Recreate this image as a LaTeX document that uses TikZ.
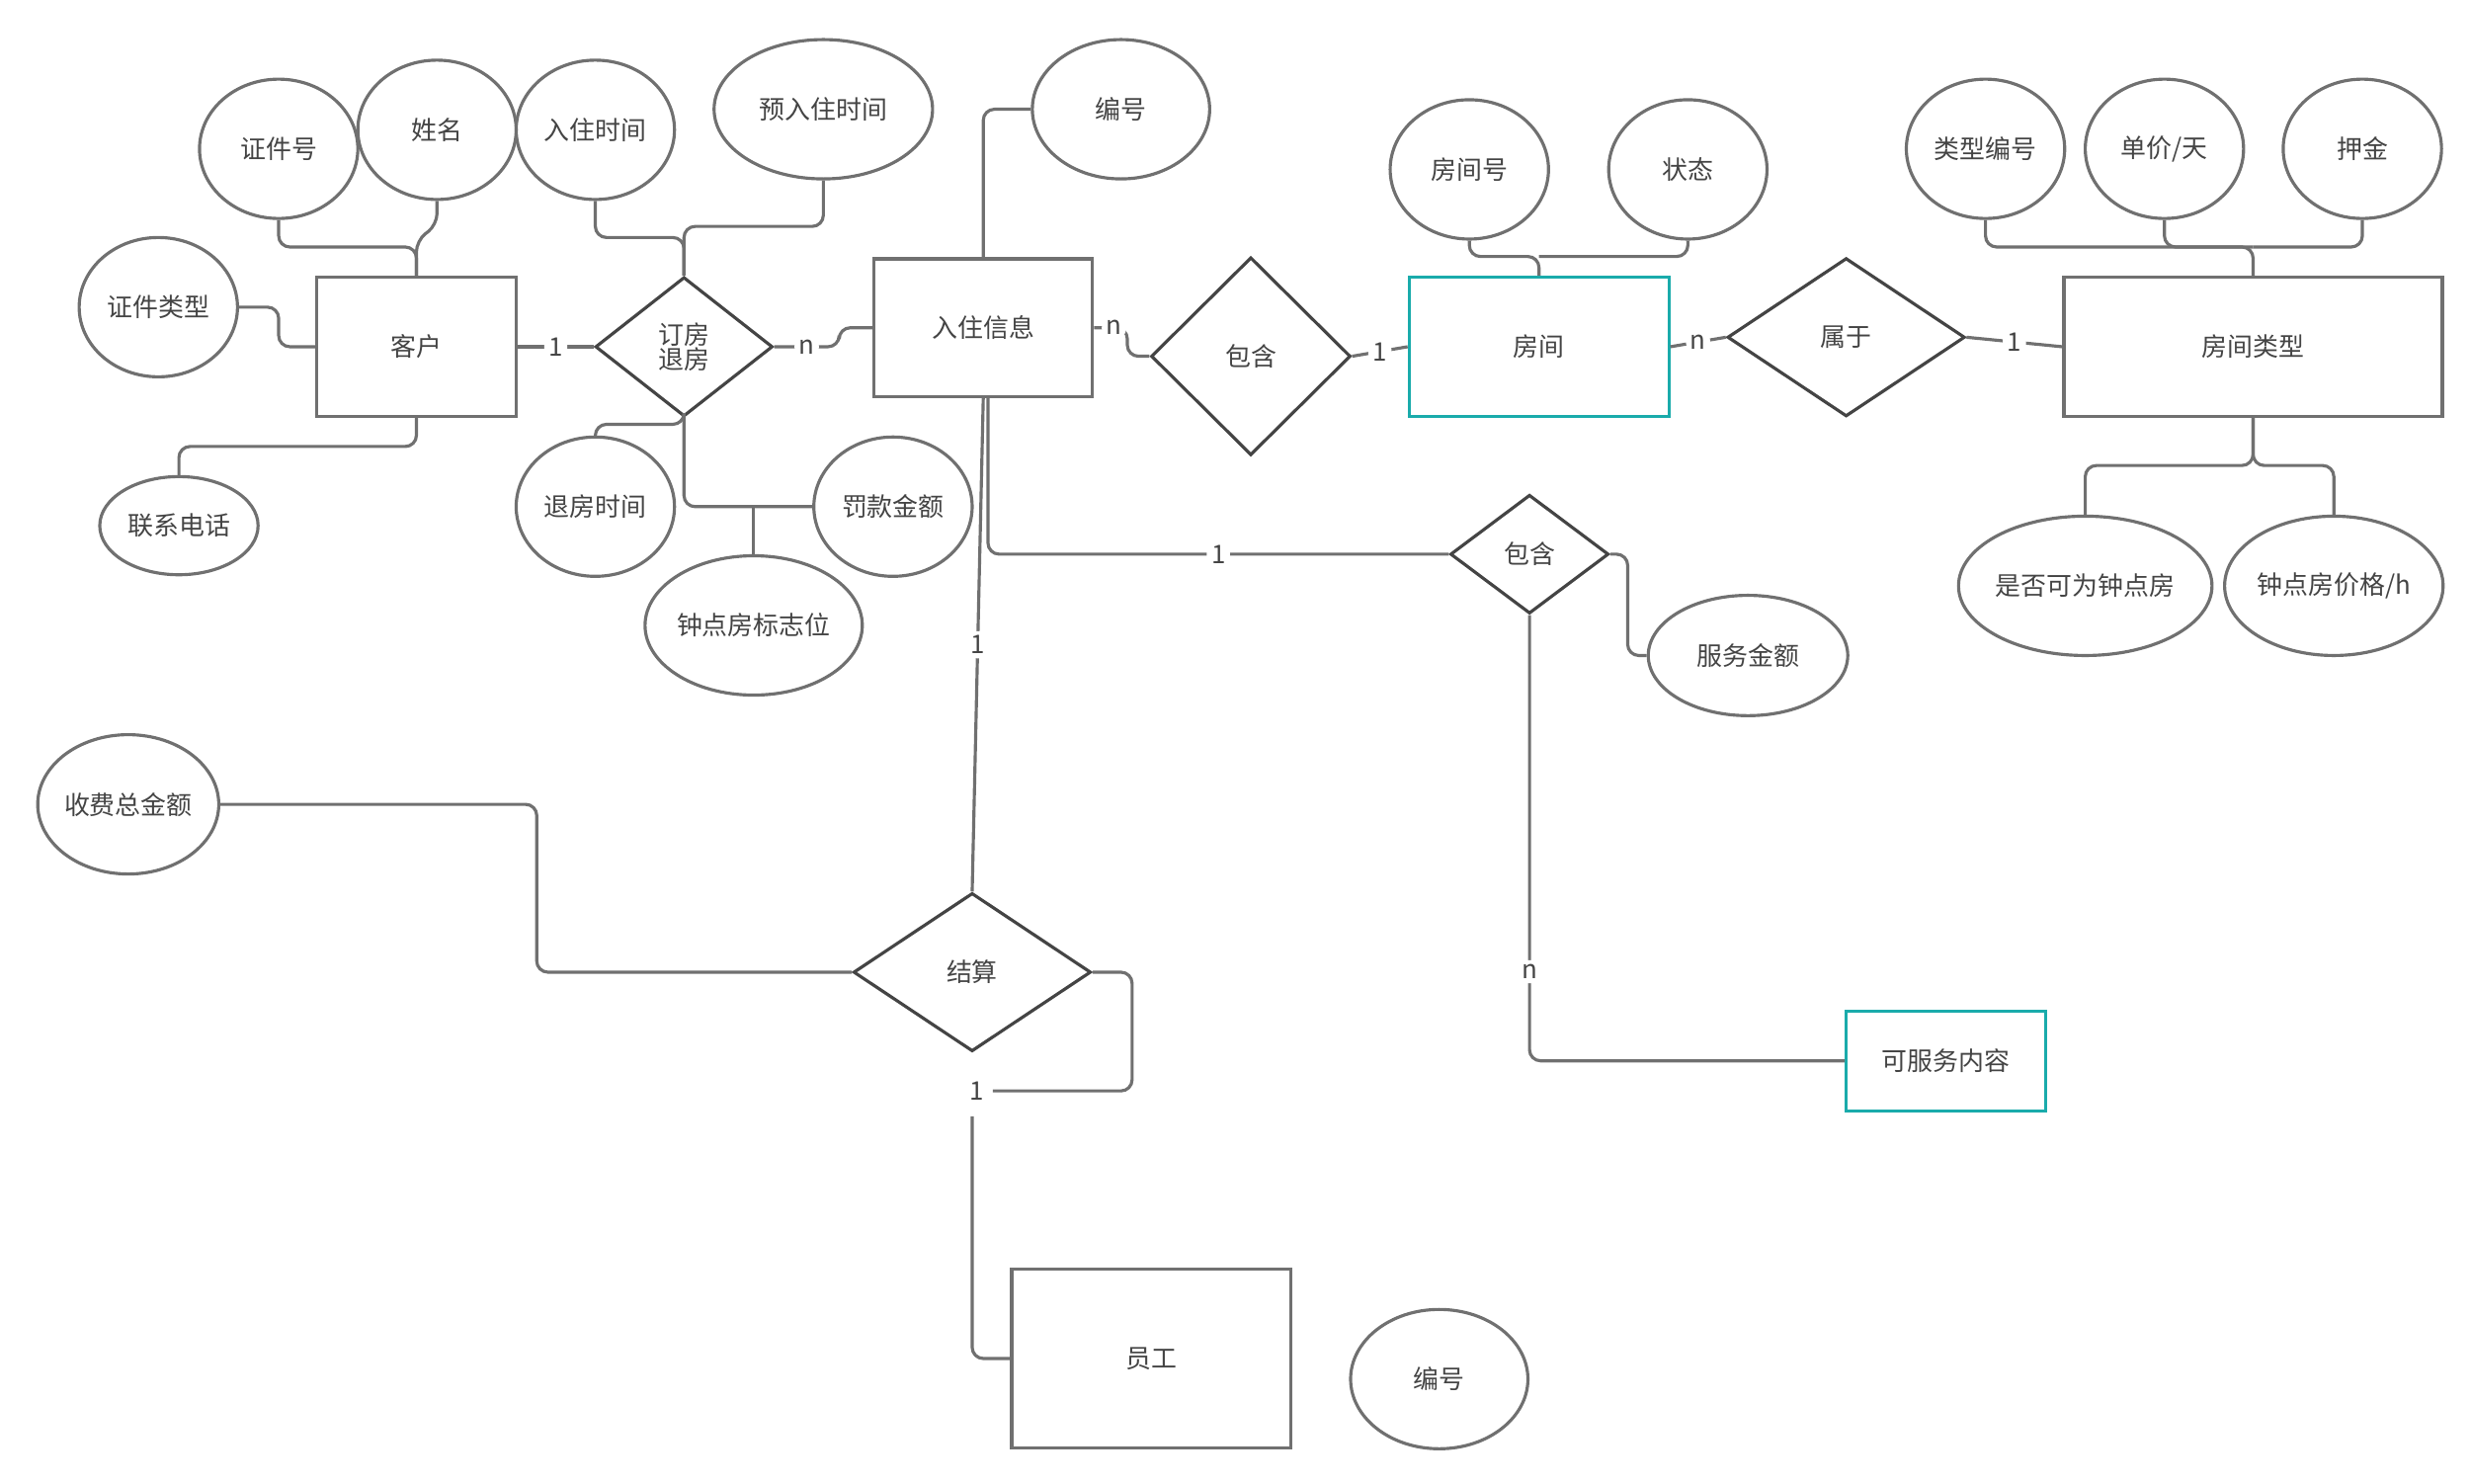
\documentclass[tikz,border=0pt]{standalone}
\usepackage{fontspec}
\setmainfont{Noto Sans CJK SC}
\usetikzlibrary{shapes.geometric}
\definecolor{ln}{HTML}{707070}
\definecolor{dk}{HTML}{444444}
\definecolor{tl}{HTML}{1AABAB}
\def\u{0.025cm}
\begin{document}
\begin{tikzpicture}[x=0.025cm,y=-0.025cm,
  every node/.style={font=\fontsize{11.5}{13}\selectfont,text=dk},
  ell/.style 2 args={ellipse,draw=ln,line width=1.4pt,inner sep=0pt,minimum width={#1*0.025cm},minimum height={#2*0.025cm}},
  ent/.style 2 args={rectangle,draw=ln,line width=1.4pt,inner sep=0pt,minimum width={#1*0.025cm},minimum height={#2*0.025cm}},
  dia/.style 2 args={diamond,draw=dk,line width=1.4pt,inner sep=0pt,minimum width={#1*0.025cm},minimum height={#2*0.025cm}},
  con/.style={draw=ln,line width=1.4pt,rounded corners=5pt},
  lab/.style={fill=white,inner sep=2pt}]
\useasboundingbox (0,0) rectangle (1560,937);
% entities
\node[ent={126}{88}] (kh) at (263,219) {客户};
\node[ent={138}{87}] (rz) at (621,207) {入住信息};
\node[ent={164}{88},draw=tl] (fj) at (972,219) {房间};
\node[ent={239}{88}] (lx) at (1423,219) {房间类型};
\node[ent={176}{113}] (yg) at (727,858) {员工};
\node[ent={126}{63},draw=tl] (fw) at (1229,670) {可服务内容};
% diamonds
\node[dia={112}{88},align=center] (dfang) at (432,219) {订房\\[-2pt]退房};
\node[dia={126}{125}] (bh1) at (790,225) {包含};
\node[dia={150}{100}] (sy) at (1166,213) {属于};
\node[dia={100}{75}] (bh2) at (966,350) {包含};
\node[dia={150}{100}] (js) at (614,614) {结算};
% ellipses
\node[ell={100}{88}] (zjh) at (176,94) {证件号};
\node[ell={100}{88}] (xm) at (276,82) {姓名};
\node[ell={100}{88}] (rzsj) at (376,82) {入住时间};
\node[ell={138}{88}] (yrz) at (520,69) {预入住时间};
\node[ell={112}{88}] (bh) at (708,69) {编号};
\node[ell={100}{88}] (zjlx) at (100,194) {证件类型};
\node[ell={100}{62}] (lxdh) at (113,332) {联系电话};
\node[ell={100}{88}] (tfsj) at (376,320) {退房时间};
\node[ell={100}{88}] (fkje) at (564,320) {罚款金额};
\node[ell={126}{88}] (zdf) at (476,395) {钟点房标志位};
\node[ell={100}{88}] (fjh) at (928,107) {房间号};
\node[ell={100}{88}] (zt) at (1066,107) {状态};
\node[ell={100}{88}] (lxbh) at (1254,94) {类型编号};
\node[ell={100}{88}] (dj) at (1367,94) {单价/天};
\node[ell={100}{88}] (yj) at (1492,94) {押金};
\node[ell={150}{88}] (sf) at (1317,370) {是否可为钟点房};
\node[ell={138}{88}] (zjg) at (1474,370) {钟点房价格/h};
\node[ell={126}{76}] (fwje) at (1104,414) {服务金额};
\node[ell={114}{88}] (sfzje) at (81,508) {收费总金额};
\node[ell={112}{88}] (bh3) at (909,871) {编号};
% connectors around 客户
\draw[con] (zjh.south) |- (263,156) -- (kh.north);
\draw[con] (xm.south) -- (276,142) -- (263,152) -- (kh.north);
\draw[con] (zjlx.east) -- (176,194) |- (kh.west);
\draw[con] (lxdh.north) |- (263,282) -- (kh.south);
\draw[con] (kh.east) -- node[lab]{1} (dfang.west);
\draw[con] (dfang.east) -- node[lab,pos=0.5]{n} (530,219) |- (rz.west);
\draw[con] (rzsj.south) |- (432,150) -- (dfang.north);
\draw[con] (yrz.south) |- (432,143) -- (dfang.north);
\draw[con] (tfsj.north) |- (432,268) -- (dfang.south);
\draw[con] (dfang.south) |- (fkje.west);
\draw[con] (zdf.north) -- (476,320);
\draw[con] (bh.west) -| (rz.north);
\draw[con] (rz.east) -- (712,207) node[lab,pos=0.6]{n} |- (bh1.west);
\draw[con] (bh1.east) -- node[lab]{1} (fj.west);
\draw[con] (fjh.south) |- (972,162) -- (fj.north);
\draw[con] (zt.south) |- (972,162);
\draw[con] (fj.east) -- node[lab]{n} (sy.west);
\draw[con] (sy.east) -- node[lab]{1} (lx.west);
\draw[con] (lxbh.south) |- (1423,156) -- (lx.north);
\draw[con] (dj.south) |- (1423,156);
\draw[con] (yj.south) |- (1423,156);
\draw[con] (lx.south) |- (1317,294) -- (sf.north);
\draw[con] (lx.south) |- (1474,294) -- (zjg.north);
\draw[con] (624,250) |- node[lab,pos=0.75]{1} (bh2.west);
\draw[con] (rz.south) -- node[lab,pos=0.5]{1} (js.north);
\draw[con] (bh2.east) -- (1028,350) |- (fwje.west);
\draw[con] (bh2.south) |- node[lab,pos=0.4]{n} (fw.west);
\draw[con] (sfzje.east) -| (339,560) |- (js.west);
\coordinate (c1) at (627,689);
\coordinate (c2) at (614,705);
\draw[con] (js.east) -| (715,660) |- (c1);
\node[lab] at (617,689) {1};
\draw[con] (c2) |- (yg.west);
\end{tikzpicture}
\end{document}
